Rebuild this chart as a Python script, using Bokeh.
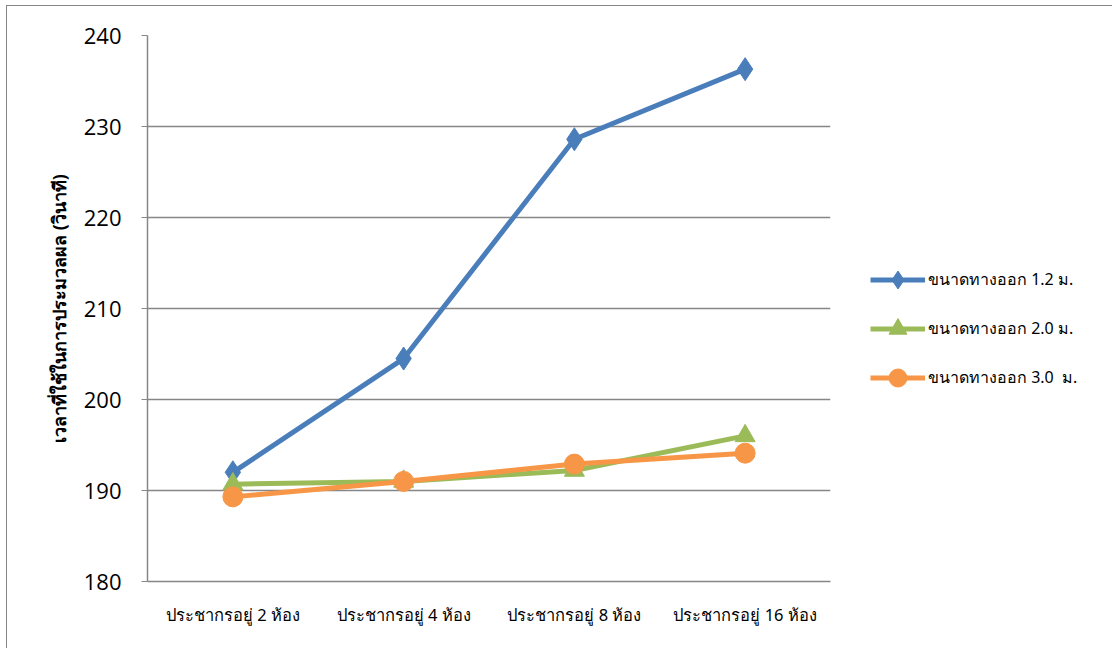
from bokeh.plotting import figure
from bokeh.models import (FactorRange, Range1d, Legend, LegendItem, FixedTicker)
from bokeh.embed import file_html
from bokeh.resources import INLINE

categories = ["ประชากรอยู่ 2 ห้อง", "ประชากรอยู่ 4 ห้อง", "ประชากรอยู่ 8 ห้อง", "ประชากรอยู่ 16 ห้อง"]
series_names = ["ขนาดทางออก 1.2 ม.", "ขนาดทางออก 2.0 ม.", "ขนาดทางออก 3.0  ม."]
exit_1_2 = [192.0, 204.5, 228.6, 236.3]
exit_2_0 = [190.7, 191.0, 192.2, 196.0]
exit_3_0 = [189.3, 191.0, 192.9, 194.1]
y_ticks = [180, 190, 200, 210, 220, 230, 240]
y_title = "เวลาที่ใช้ในการประมวลผล (วินาที)"

colors = ["#4A7EBB", "#9BBB59", "#F79646"]
markers = ["diamond", "triangle", "circle"]
sizes = [23, 20, 20]

p = figure(frame_width=683, frame_height=546, output_backend="svg", toolbar_location=None,
           x_range=FactorRange(factors=categories, range_padding=0),
           y_range=Range1d(180, 240))
p.styles = {"margin-left": "6px", "margin-top": "5px",
            "border-left": "1px solid #868686", "border-top": "1px solid #868686"}
p.min_border_left = 140
p.min_border_right = 0
p.min_border_top = 29
p.min_border_bottom = 67
p.outline_line_color = None
p.background_fill_color = "white"
p.border_fill_color = "white"

p.xgrid.grid_line_color = None
p.ygrid.grid_line_color = "#868686"
p.ygrid.grid_line_width = 1.5

p.yaxis.ticker = FixedTicker(ticks=y_ticks)
p.yaxis.axis_line_color = "#868686"
p.yaxis.axis_line_width = 1.5
p.yaxis.major_tick_line_color = "#868686"
p.yaxis.major_tick_out = 6
p.yaxis.major_tick_in = 0
p.yaxis.minor_tick_line_color = None
p.yaxis.major_label_text_font = "Open Sans"
p.yaxis.major_label_text_font_size = "22px"
p.yaxis.major_label_text_color = "#000000"
p.yaxis.major_label_standoff = 20
p.yaxis.axis_label = y_title
p.yaxis.axis_label_text_font = "Noto Sans"
p.yaxis.axis_label_text_font_size = "18px"
p.yaxis.axis_label_text_font_style = "bold"
p.yaxis.axis_label_text_color = "#000000"
p.yaxis.axis_label_standoff = 10

p.xaxis.axis_line_color = "#868686"
p.xaxis.axis_line_width = 1.5
p.xaxis.major_tick_line_color = None
p.xaxis.minor_tick_line_color = None
p.xaxis.major_label_text_font = "Noto Sans"
p.xaxis.major_label_text_font_size = "16.5px"
p.xaxis.major_label_text_color = "#000000"
p.xaxis.major_label_standoff = 15

items = []
for name, vals, c, m, s in zip(series_names, [exit_1_2, exit_2_0, exit_3_0], colors, markers, sizes):
    l = p.line(categories, vals, line_color=c, line_width=5)
    sc = p.scatter(categories, vals, marker=m, size=s, fill_color=c, line_color=c)
    items.append(LegendItem(label=name, renderers=[l, sc]))

legend = Legend(items=items, location=(40, 181), padding=0, margin=0,
                border_line_color=None, background_fill_alpha=0,
                glyph_width=55, glyph_height=45, label_standoff=3, spacing=4,
                label_text_font="Noto Sans", label_text_font_size="16px",
                label_text_color="#000000")
p.add_layout(legend, "right")

open("out.html", "w").write(file_html(p, INLINE))
